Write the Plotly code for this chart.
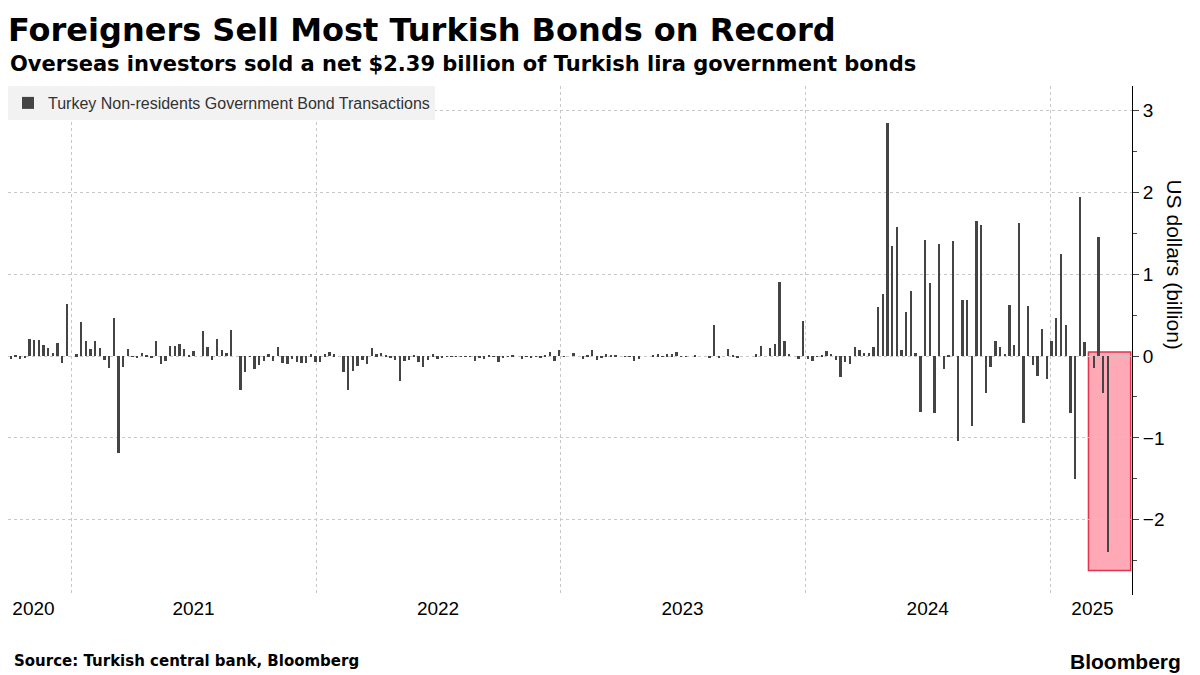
import pandas as pd
import plotly.graph_objects as go

# weekly net bond transactions by non-residents, USD billion
vals_2020_21 = [0.0, -0.09, 0.41, -0.18, -0.03, 0.01, -0.03, -0.02, 0.21, 0.2, 0.2, 0.13, 0.1, 0.04,
                0.16, -0.08, 0.64, 0.0, 0.02, 0.42, 0.18, 0.09, 0.18, 0.1, -0.05, -0.14, 0.47, -1.19,
                -0.13, 0.09, -0.01, -0.02, 0.04, 0.01, -0.02, 0.19, -0.1, -0.06, 0.12, 0.12, 0.15,
                0.09, 0.01, 0.06, 0.0, 0.31, 0.11, -0.05, 0.21, 0.07, 0.04, 0.32, 0.0, -0.42, -0.2,
                -0.01, -0.16, -0.11, -0.06, 0.02, -0.06]
vals_2021_22 = [0.11, -0.08, -0.1, -0.03, -0.07, -0.09, -0.09, 0.02, -0.07, -0.07, 0.02, 0.05, 0.02,
                0.0, -0.19, -0.42, -0.18, -0.12, -0.05, -0.1, 0.1, 0.02, 0.04, 0.01, -0.02, -0.05,
                -0.3, -0.06, -0.05, 0.01, -0.07, -0.13, -0.05, 0.02, -0.04, -0.02, -0.01, -0.01,
                -0.01, -0.01, -0.01, -0.01, -0.06, -0.02, -0.03, 0.01, -0.01, -0.07, -0.02, -0.01,
                0.01, 0.0, -0.03, -0.01, -0.02, -0.01, -0.02, 0.01]
vals_2023 = [0.05, -0.06, 0.08, -0.01, 0.0, 0.04, 0.0, -0.03, 0.01, 0.07, -0.05, -0.02, 0.02, 0.01,
             0.01, 0.0, -0.01, -0.01, -0.06, -0.03, 0.0, 0.0, 0.01, 0.02, -0.01, 0.02, 0.02, 0.05,
             -0.01, -0.01, 0.0, 0.01, 0.0, 0.0, -0.02, 0.38, -0.02, 0.0, 0.09, 0.01, -0.02, 0.0,
             0.0, 0.0, 0.02, 0.12, 0.0, 0.1, 0.15, 0.9, 0.19, 0.03, 0.0, -0.04, 0.43, -0.04, -0.06,
             -0.01, 0.01, 0.06, 0.03, -0.05]
vals_2024 = [-0.26, -0.07, -0.1, 0.11, 0.08, 0.04, 0.04, 0.11, 0.6, 0.76, 2.85, 1.34, 1.58, 0.08,
             0.54, 0.8, 0.04, -0.68, 1.42, 0.89, -0.7, 1.37, -0.16, 0.01, 1.41, -1.04, 0.69, 0.69,
             -0.86]
vals_2025 = [1.65, 1.6, -0.45, -0.13, 0.19, 0.11, 0.03, 0.62, 0.14, 1.63, -0.82, 0.61, -0.11, -0.24,
             0.33, -0.28, 0.18, 0.46, 1.25, 0.38, -0.69, -1.5, 1.94, 0.17, 0.0, -0.15, 1.46, -0.45,
             -2.39]

values = vals_2020_21 + vals_2021_22 + vals_2023 + vals_2024 + vals_2025
dates = pd.date_range(end="2025-03-28", periods=len(values), freq="W-FRI")

year_labels = ["2020", "2021", "2022", "2023", "2024", "2025"]
label_pos = ["2020-11-05", "2021-07-02", "2022-07-02", "2023-07-02", "2024-07-02", "2025-03-05"]
year_starts = ["2021-01-01", "2022-01-01", "2023-01-01", "2024-01-01", "2025-01-01"]

fig = go.Figure()
fig.add_shape(type="rect", x0="2025-02-27", x1="2025-05-01", y0=0.05, y1=-2.62,
              fillcolor="rgba(255,160,175,0.9)", line=dict(color="#e0344f", width=1.5),
              layer="below")
fig.add_trace(go.Bar(x=dates, y=values, width=3.5 * 86400000, marker_color="#444444",
                     marker_line_width=0,
                     name="Turkey Non-residents Government Bond Transactions"))

fig.update_layout(
    width=1200, height=675,
    paper_bgcolor="white", plot_bgcolor="white",
    font=dict(family="Liberation Sans, Arial", color="#000"),
    margin=dict(l=0, r=76, t=78, b=88, autoexpand=False),
    bargap=0,
    showlegend=True,
    legend=dict(x=0.0, y=1.0, xanchor="left", yanchor="top", bgcolor="#f2f2f2",
                font=dict(size=16, color="#333"), itemwidth=30),
    title=dict(text="<b>Foreigners Sell Most Turkish Bonds on Record</b>",
               x=0.0, xanchor="left", y=0.985, yanchor="top",
               font=dict(size=32, family="DejaVu Sans")),
    xaxis=dict(type="date", range=["2020-09-28", "2025-05-03"], automargin=False,
               tickvals=label_pos, ticktext=year_labels, showgrid=False, ticks="",
               tickfont=dict(size=19), zeroline=False,
               minor=dict(tickvals=year_starts, showgrid=True, griddash="dot",
                          gridcolor="#c8c8c8", gridwidth=1, ticks="")),
    yaxis=dict(side="right", range=[-2.92, 3.3], tickvals=[-2, -1, 0, 1, 2, 3], automargin=False,
               showgrid=True, griddash="dot", gridcolor="#c8c8c8", zeroline=False,
               showline=True, linecolor="#000", linewidth=1, ticks="outside", ticklen=6,
               tickfont=dict(size=19), minor=dict(dtick=0.5, ticks="outside", ticklen=4)),
)

fig.add_annotation(text="<b>Overseas investors sold a net $2.39 billion of Turkish lira government bonds</b>",
                   xref="paper", yref="paper", x=0.0, y=1.0, xanchor="left", yanchor="bottom",
                   yshift=8, showarrow=False, font=dict(size=21, family="DejaVu Sans"))
fig.add_annotation(text="US dollars (billion)", textangle=90, xref="paper", yref="paper",
                   x=1.05, y=0.65, showarrow=False, font=dict(size=21))
fig.add_annotation(text="<b>Source: Turkish central bank, Bloomberg</b>", xref="paper", yref="paper",
                   x=0.004, y=-0.13, xanchor="left", yanchor="middle", showarrow=False,
                   font=dict(size=15, family="DejaVu Sans"))
fig.add_annotation(text="<b>Bloomberg</b>", xref="paper", yref="paper", x=1.045, y=-0.13,
                   xanchor="right", yanchor="middle", showarrow=False, font=dict(size=21))

fig.write_html("out.html")
